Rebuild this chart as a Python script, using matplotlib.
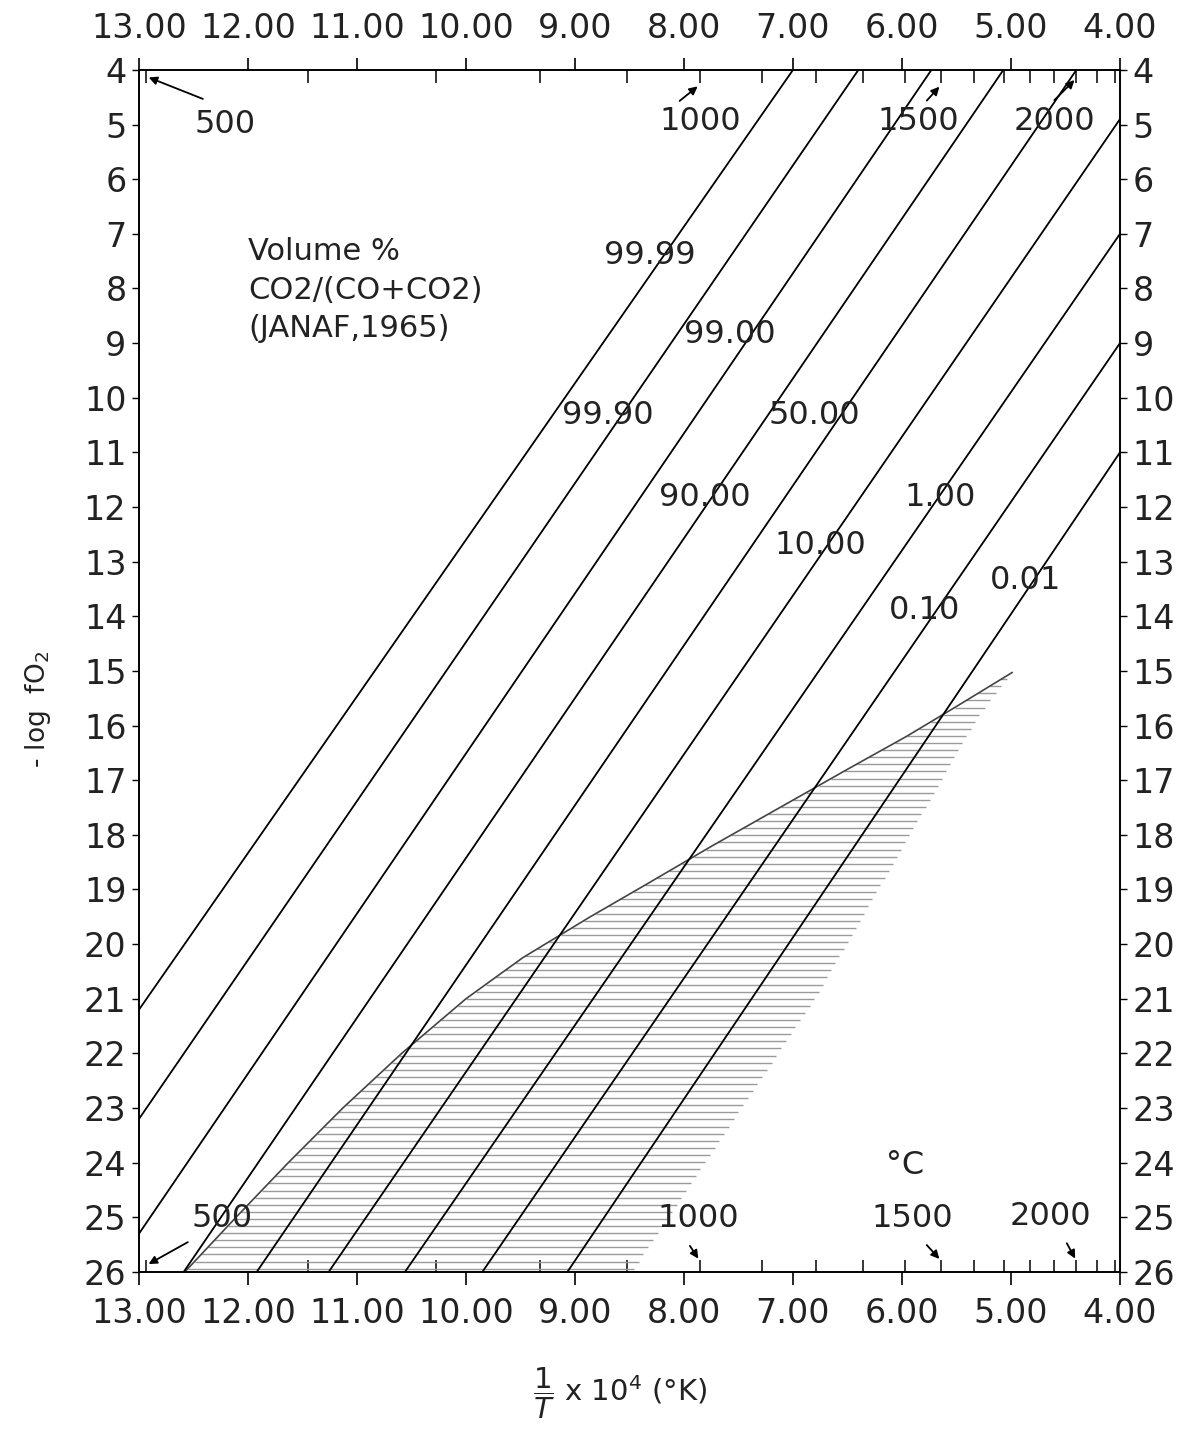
import numpy as np
import matplotlib.pyplot as plt
from matplotlib.ticker import FixedLocator, FormatStrFormatter

plt.rcParams['font.family'] = ['DejaVu Sans']
plt.rcParams['mathtext.fontset'] = 'dejavusans'

# CO2/(CO+CO2) volume % lines, end points
# x = 1/T x 10^4, y = -log fO2
pct_labels = ['99.99', '99.90', '99.00', '90.00', '50.00',
              '10.00', '1.00', '0.10', '0.01']
line_x0 = [13.00, 13.00, 13.00, 12.59, 11.92, 11.26, 10.56, 9.85, 9.07]
line_y0 = [21.2, 23.2, 25.3, 26.0, 26.0, 26.0, 26.0, 26.0, 26.0]
line_x1 = [7.00, 6.40, 5.73, 5.07, 4.40, 4.00, 4.00, 4.00, 4.00]
line_y1 = [4.0, 4.0, 4.0, 4.0, 4.0, 4.9, 7.0, 9.0, 11.0]

# where the percent labels sit
label_x = [8.31, 8.70, 7.58, 7.81, 6.80, 6.75, 5.65, 5.79, 4.87]
label_y = [7.39, 10.32, 8.85, 11.82, 10.32, 12.70, 11.82, 13.89, 13.34]

# upper boundary of the hatched field
curve_x = [12.58, 12.11, 11.63, 11.13, 10.59, 10.00, 9.48, 8.86, 8.34,
           7.74, 7.12, 6.50, 5.96, 5.50, 4.99]
curve_y = [26.0, 25.0, 24.0, 23.0, 22.0, 21.0, 20.25, 19.5, 18.9,
           18.2, 17.5, 16.8, 16.2, 15.65, 15.03]
# right (lower) edge of the hatched field
edge_x = [4.99, 5.31, 6.77, 8.48]
edge_y = [15.03, 15.85, 20.9, 26.0]

# temperature marks in deg C
celsius_ticks = np.arange(500, 2201, 100)
celsius_marks = [500, 1000, 1500, 2000]
top_text_x = [12.21, 7.85, 5.85, 4.60]
top_text_y = [5.0, 4.95, 4.95, 4.95]
top_tail_x = [12.39, 8.06, 5.79, 4.62]
top_tail_y = [4.55, 4.60, 4.60, 4.59]
top_head_y = [4.12, 4.27, 4.27, 4.15]
bot_text_x = [12.24, 7.87, 5.91, 4.64]
bot_text_y = [25.03, 25.03, 25.03, 24.99]
bot_tail_x = [12.53, 7.96, 5.79, 4.50]
bot_tail_y = [25.43, 25.48, 25.47, 25.43]
bot_head_y = [25.88, 25.80, 25.80, 25.80]

x_ticks = [13, 12, 11, 10, 9, 8, 7, 6, 5, 4]
y_ticks = list(range(4, 27))

txt = '#222222'

fig = plt.figure(figsize=(11.92, 14.5), dpi=100, facecolor='w')
ax = fig.add_axes([0.1166, 0.1228, 0.8230, 0.8290])

# hatched field
ys = np.arange(15.15, 25.95, 0.13)
xl = np.interp(ys, curve_y[::-1], curve_x[::-1])
xr = np.interp(ys, edge_y, edge_x)
ax.hlines(ys, xr, xl, colors='#9a9a9a', lw=1.0)
ax.plot(curve_x, curve_y, color='#444444', lw=1.2)

# composition lines
for i in range(len(pct_labels)):
    ax.plot([line_x0[i], line_x1[i]], [line_y0[i], line_y1[i]], 'k', lw=1.3)
    ax.text(label_x[i], label_y[i], pct_labels[i], fontsize=23,
            ha='center', va='center', color=txt)

ax.text(12.0, 8.03, 'Volume %\nCO2/(CO+CO2)\n(JANAF,1965)', fontsize=22,
        ha='left', va='center', linespacing=1.4, color=txt)

# deg C arrows
for i, c in enumerate(celsius_marks):
    xc = 1e4 / (c + 273.15)
    ax.text(top_text_x[i], top_text_y[i], str(c), fontsize=23,
            ha='center', va='center', color=txt)
    ax.annotate('', xy=(xc, top_head_y[i]), xytext=(top_tail_x[i], top_tail_y[i]),
                arrowprops=dict(arrowstyle='-|>', color='k', lw=1.3,
                                mutation_scale=12))
    ax.text(bot_text_x[i], bot_text_y[i], str(c), fontsize=23,
            ha='center', va='center', color=txt)
    ax.annotate('', xy=(xc, bot_head_y[i]), xytext=(bot_tail_x[i], bot_tail_y[i]),
                arrowprops=dict(arrowstyle='-|>', color='k', lw=1.3,
                                mutation_scale=12))
ax.text(5.97, 24.05, '°C', fontsize=23, ha='center', va='center', color=txt)

ax.set_xlim(13, 4)
ax.set_ylim(26, 4)

ax.xaxis.set_major_locator(FixedLocator(x_ticks))
ax.xaxis.set_major_formatter(FormatStrFormatter('%.2f'))
ax.xaxis.set_minor_locator(FixedLocator(1e4 / (celsius_ticks + 273.15)))
ax.yaxis.set_major_locator(FixedLocator(y_ticks))

ax.tick_params(axis='x', which='major', direction='out', length=9, width=1.2,
               labelsize=24, pad=9, top=True, labeltop=True, labelcolor=txt)
ax.tick_params(axis='x', which='minor', direction='in', length=9, width=1.1,
               top=True)
ax.tick_params(axis='y', which='major', direction='out', length=5, width=1.0,
               labelsize=24, pad=4, right=True, labelright=True, labelcolor=txt)

ax.set_ylabel(r'- log  fO$_2$', fontsize=19, color=txt)
ax.yaxis.set_label_coords(-0.088, 0.468)
ax.set_xlabel(r'$\dfrac{1}{T}$ x 10$^4$ (°K)', fontsize=21, color=txt)
ax.xaxis.set_label_coords(0.49, -0.078)

for s in ax.spines.values():
    s.set_linewidth(1.4)

fig.savefig('out.png', dpi=100, facecolor='w')
